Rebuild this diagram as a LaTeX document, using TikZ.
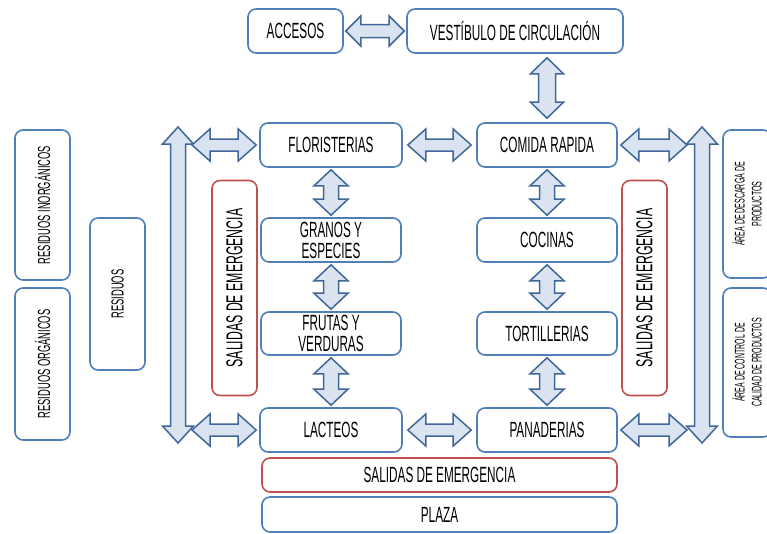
\documentclass[tikz,border=0pt]{standalone}
\usepackage{fontspec}
\setmainfont{Liberation Sans}[FakeStretch=0.535]
\newfontfamily\narrowsans{Liberation Sans}[FakeStretch=0.5]
\usetikzlibrary{calc}

\definecolor{boxblue}{HTML}{4F7FBA}
\definecolor{arrowblue}{HTML}{41679A}
\definecolor{arrowfill}{HTML}{DAE4F1}
\definecolor{boxred}{HTML}{C0504D}

\tikzset{
  box/.style={draw=boxblue, line width=1.6pt, rounded corners=8pt, fill=white,
    align=center, inner sep=0pt, font=\fontsize{22}{21}\selectfont},
  redbox/.style={box, draw=boxred},
  vbox/.style={box, rotate=90},
  sidebox/.style={vbox, font=\fontsize{17.5}{18}\selectfont},
  areabox/.style={vbox, font=\narrowsans\fontsize{14}{17}\selectfont},
  blockarrow/.style={draw=arrowblue, fill=arrowfill, line width=1.5pt, line join=miter},
}

% horizontal double block arrow: ends, gap, head half-width, shaft half-width, head length
\newcommand\harrow[6]{%
  \draw[blockarrow] let \p1=($(#1)+(#3,0)$), \p2=($(#2)-(#3,0)$) in
  (\x1,\y1) -- (\x1+#6,\y1+#4) -- (\x1+#6,\y1+#5) -- (\x2-#6,\y1+#5) -- (\x2-#6,\y1+#4)
  -- (\x2,\y1) -- (\x2-#6,\y1-#4) -- (\x2-#6,\y1-#5) -- (\x1+#6,\y1-#5) -- (\x1+#6,\y1-#4) -- cycle;}
% vertical double block arrow: top end, bottom end, gap, head half-width, shaft half-width, head length
\newcommand\varrow[6]{%
  \draw[blockarrow] let \p1=($(#1)+(0,#3)$), \p2=($(#2)-(0,#3)$) in
  (\x1,\y1) -- (\x1+#4,\y1-#6) -- (\x1+#5,\y1-#6) -- (\x1+#5,\y2+#6) -- (\x1+#4,\y2+#6)
  -- (\x1,\y2) -- (\x1-#4,\y2+#6) -- (\x1-#5,\y2+#6) -- (\x1-#5,\y1-#6) -- (\x1-#4,\y1-#6) -- cycle;}

\begin{document}
\begin{tikzpicture}[x=1pt,y=-1pt]
\clip (0,0) rectangle (767,533);

% top row
\node[box, minimum width=95, minimum height=44] (acc) at (295.5,31) {ACCESOS};
\node[box, minimum width=216, minimum height=44] (vest) at (515,31) {VESTÍBULO DE CIRCULACIÓN};

% left column of stalls
\node[box, minimum width=142, minimum height=44] (flor) at (331,145) {FLORISTERIAS};
\node[box, minimum width=140, minimum height=44] (granos) at (331,240) {GRANOS Y\\ESPECIES};
\node[box, minimum width=140, minimum height=43] (frutas) at (331,333.5) {FRUTAS Y\\VERDURAS};
\node[box, minimum width=142, minimum height=44] (lacteos) at (331,430) {LACTEOS};

% right column of stalls
\node[box, minimum width=140, minimum height=44] (comida) at (547,145) {COMIDA RAPIDA};
\node[box, minimum width=140, minimum height=44] (cocinas) at (547,240) {COCINAS};
\node[box, minimum width=140, minimum height=43] (tortill) at (547,333.5) {TORTILLERIAS};
\node[box, minimum width=140, minimum height=44] (panad) at (547,430) {PANADERIAS};

% emergency exits
\node[redbox, rotate=90, minimum width=215, minimum height=45,
      font=\fontsize{23}{22}\selectfont] (salL) at (234.5,288) {SALIDAS DE EMERGENCIA};
\node[redbox, rotate=90, minimum width=215, minimum height=45,
      font=\fontsize{23}{22}\selectfont] (salR) at (644.5,288) {SALIDAS DE EMERGENCIA};
\node[redbox, minimum width=355, minimum height=34] (salB) at (439.5,475) {SALIDAS DE EMERGENCIA};
\node[box, minimum width=355, minimum height=35] (plaza) at (439.5,514.5) {PLAZA};

% waste area
\node[sidebox, minimum width=150, minimum height=55] (resI) at (42.5,205) {RESIDUOS INORGÁNICOS};
\node[sidebox, minimum width=152, minimum height=55] (resO) at (42.5,364) {RESIDUOS ORGÁNICOS};
\node[sidebox, minimum width=152, minimum height=55] (res) at (117.5,294) {RESIDUOS};

% goods area
\node[areabox, minimum width=148, minimum height=48] (descarga) at (747,204) {ÁREA DE DESCARGA DE\\PRODUCTOS};
\node[areabox, minimum width=149, minimum height=48] (control) at (747,362.5) {ÁREA DE CONTROL DE\\CALIDAD DE PRODUCTOS};

% ends of the side corridors
\coordinate (lvt) at (178,127);
\coordinate (lvb) at (178,443);
\coordinate (rvt) at (702,127);
\coordinate (rvb) at (702,443);
\coordinate (lf) at (189,145);
\coordinate (ll) at (189,430);
\coordinate (rf) at (690,145);
\coordinate (rl) at (690,430);

% side corridors
\varrow{lvt}{lvb}{0}{15.5pt}{7.5pt}{17pt}
\varrow{rvt}{rvb}{0}{15.5pt}{7.5pt}{17pt}

% horizontal links
\harrow{acc.east}{vest.west}{2}{15pt}{6.5pt}{15pt}
\harrow{lf}{flor.west}{3}{16pt}{6pt}{18pt}
\harrow{flor.east}{comida.west}{5}{16pt}{6pt}{18pt}
\harrow{comida.east}{rf}{3}{16pt}{6pt}{18pt}
\harrow{ll}{lacteos.west}{3}{16pt}{6pt}{18pt}
\harrow{lacteos.east}{panad.west}{5}{16pt}{6pt}{18pt}
\harrow{panad.east}{rl}{3}{16pt}{6pt}{18pt}

% vertical links
\varrow{vest.south -| comida.north}{comida.north}{4}{16.5pt}{8.5pt}{16pt}
\varrow{flor.south}{granos.north}{2}{17pt}{7.5pt}{16pt}
\varrow{granos.south}{frutas.north}{2}{17pt}{7.5pt}{16pt}
\varrow{frutas.south}{lacteos.north}{2}{17pt}{7.5pt}{16pt}
\varrow{comida.south}{cocinas.north}{2}{17pt}{7.5pt}{16pt}
\varrow{cocinas.south}{tortill.north}{2}{17pt}{7.5pt}{16pt}
\varrow{tortill.south}{panad.north}{2}{17pt}{7.5pt}{16pt}
\end{tikzpicture}
\end{document}
